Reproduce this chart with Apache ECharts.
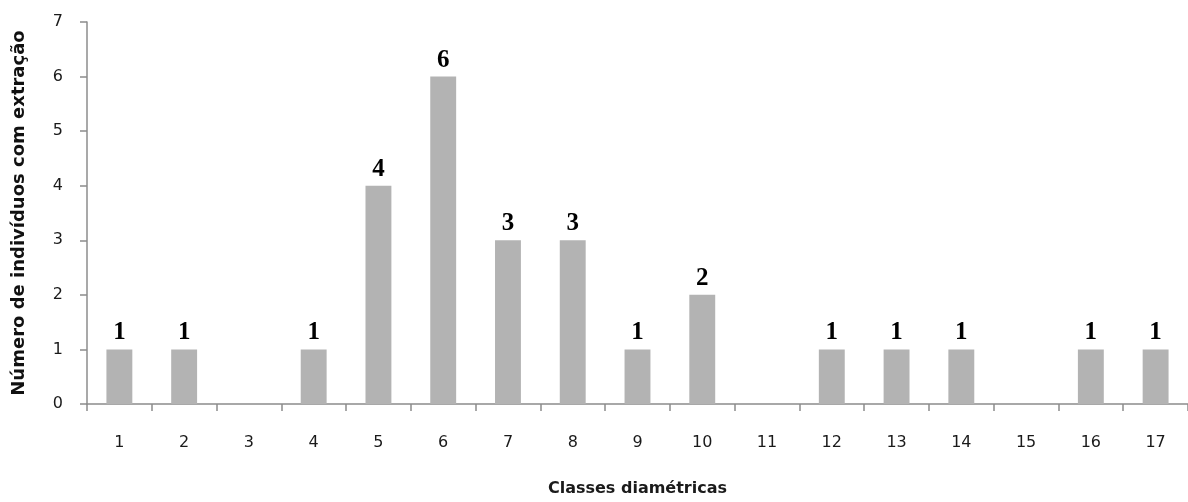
<!DOCTYPE html>
<html>
<head>
<meta charset="utf-8">
<script src="https://cdn.jsdelivr.net/npm/echarts@6/dist/echarts.min.js"></script>
<style>
  html, body { margin: 0; padding: 0; background: #fff; }
  #chart { width: 1188px; height: 502px; }
</style>
</head>
<body>
<div id="chart"></div>
<script>
// Diameter classes and number of individuals with extraction per class
const classes = ['1', '2', '3', '4', '5', '6', '7', '8', '9', '10', '11', '12', '13', '14', '15', '16', '17'];
const individuos = [1, 1, 0, 1, 4, 6, 3, 3, 1, 2, 0, 1, 1, 1, 0, 1, 1];
const yTicks = { min: 0, max: 7, interval: 1 };

const chart = echarts.init(document.getElementById('chart'), null, { renderer: 'canvas' });

const axisColor = '#8c8c8c';
const textFont = '"DejaVu Sans", Verdana, sans-serif';

chart.setOption({
  animation: false,
  grid: { left: 87, top: 22, width: 1110, height: 388, containLabel: false },
  xAxis: {
    type: 'category',
    data: classes,
    name: 'Classes diamétricas',
    nameLocation: 'middle',
    nameGap: 77,
    nameTextStyle: { fontFamily: textFont, fontWeight: 'bold', fontSize: 16, color: '#1a1a1a' },
    axisLine: { lineStyle: { color: axisColor, width: 1.5 } },
    axisTick: { show: true, length: 7, lineStyle: { color: axisColor, width: 1.5 } },
    axisLabel: { margin: 31, fontFamily: textFont, fontSize: 16, color: '#1a1a1a' },
    splitLine: { show: false }
  },
  yAxis: {
    type: 'value',
    min: yTicks.min,
    max: yTicks.max,
    interval: yTicks.interval,
    name: 'Número de indivíduos com extração',
    nameLocation: 'middle',
    nameGap: 59,
    nameRotate: 90,
    nameTextStyle: { fontFamily: textFont, fontWeight: 'bold', fontSize: 18, color: '#111' },
    axisLine: { show: true, lineStyle: { color: axisColor, width: 1.5 } },
    axisTick: { show: true, inside: false, length: 7, lineStyle: { color: axisColor, width: 1.5 } },
    axisLabel: { margin: 24, fontFamily: textFont, fontSize: 16, color: '#1a1a1a' },
    splitLine: { show: false }
  },
  series: [{
    type: 'bar',
    data: individuos.map(v => ({
      value: v,
      label: { show: v > 0 }
    })),
    barWidth: '40%',
    itemStyle: { color: '#b3b3b3' },
    label: {
      show: true,
      position: 'top',
      distance: 4,
      fontFamily: '"Liberation Serif", "Times New Roman", serif',
      fontWeight: 'bold',
      fontSize: 25,
      color: '#000'
    }
  }]
});
</script>
</body>
</html>
